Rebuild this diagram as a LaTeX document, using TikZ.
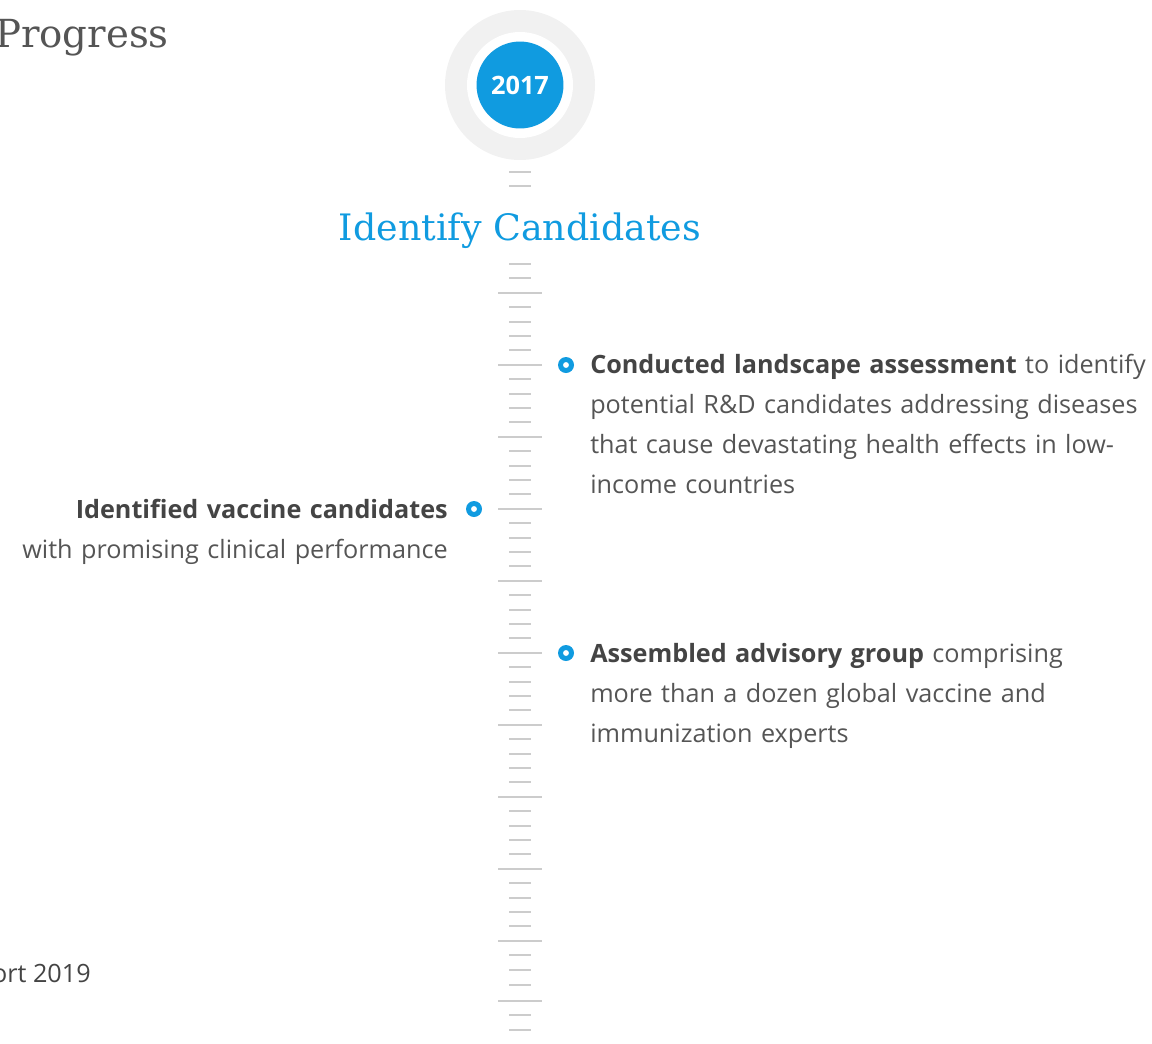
\documentclass[tikz,border=0pt]{standalone}
\usepackage{fontspec}
\setmainfont{Open Sans}
\newfontfamily\slab{DejaVu Serif}
\usetikzlibrary{positioning}
\definecolor{tlblue}{HTML}{109BE0}
\definecolor{ringgray}{HTML}{F1F1F1}
\definecolor{tickgray}{HTML}{CCCCCC}
\definecolor{txtgray}{HTML}{555555}
\definecolor{boldgray}{HTML}{444444}

\begin{document}
\begin{tikzpicture}[x=0.75pt,y=-0.75pt,
    dot/.style={circle,fill=tlblue,minimum size=12pt,inner sep=0pt,
                path picture={\fill[white] (path picture bounding box.center) circle[radius=2.2pt];}},
    note/.style={font=\fontsize{18.9}{30}\selectfont,text=txtgray,inner sep=0pt,text width=450pt},
    tick/.style={draw=tickgray,line width=1.5pt}]

  \useasboundingbox (0,0) rectangle (1152,1043);

  % year badge
  \fill[ringgray] (520,85) circle[radius=56.25pt];
  \fill[white] (520,85) circle[radius=39.75pt];
  \node[circle,fill=tlblue,minimum size=65.2pt,inner sep=0pt,text=white,
        font=\bfseries\fontsize{19}{20}\selectfont] (Y) at (520,85) {2017};

  % ruler
  \foreach \y in {172,186} \draw[tick] (509,\y) -- (531,\y);
  \foreach \k in {0,...,47} {
    \pgfmathtruncatemacro{\m}{mod(\k+3,5)}
    \pgfmathsetmacro{\y}{264+14.4*\k}
    \ifnum\m=0
      \draw[tick] (498,\y) -- (542,\y);
    \else
      \draw[tick] (509,\y) -- (531,\y);
    \fi
  }
  \foreach \y in {955,970,985,1015,1030} \draw[tick] (509,\y) -- (531,\y);
  \draw[tick] (498,1001) -- (542,1001);

  % headings
  \node[anchor=base,inner sep=0pt,text=tlblue,font=\slab\fontsize{27.3}{34}\selectfont] (T) at (520,240) {Identify Candidates};
  \node[anchor=base east,inner sep=0pt,text=txtgray,font=\slab\fontsize{29}{34}\selectfont] (P) at (169,47) {Progress};
  \node[anchor=base east,inner sep=0pt,text=boldgray,font=\fontsize{18.9}{30}\selectfont] (R) at (91,982) {ort 2019};

  % milestones
  \node[dot] (b1) at (566,365) {};
  \node[dot] (b2) at (474,509) {};
  \node[dot] (b3) at (566,653) {};

  \node[note,anchor=base west,align=left] (t1) at (590,373)
    {\textcolor{boldgray}{\bfseries Conducted landscape assessment} to identify\\
     potential R\&D candidates addressing diseases\\
     that cause devastating health effects in low-\\
     income countries};
  \node[note,anchor=base east,align=right] (t2) at (448,518)
    {\textcolor{boldgray}{\bfseries Identified vaccine candidates}\\
     with promising clinical performance};
  \node[note,anchor=base west,align=left] (t3) at (590,662)
    {\textcolor{boldgray}{\bfseries Assembled advisory group} comprising\\
     more than a dozen global vaccine and\\
     immunization experts};
\end{tikzpicture}
\end{document}
